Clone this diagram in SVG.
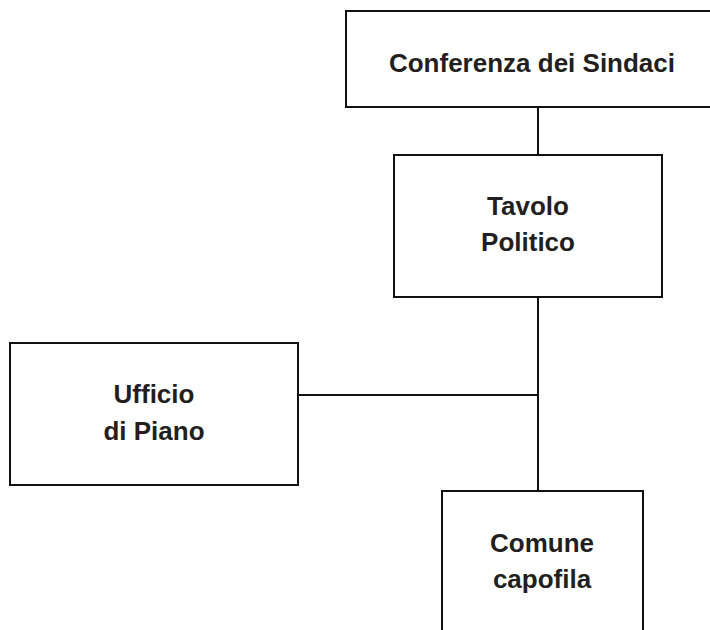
<svg xmlns="http://www.w3.org/2000/svg" width="710" height="630" viewBox="0 0 710 630">
<style>
.box{fill:#fff;stroke:#111;stroke-width:2}
.lbl{font-family:"Liberation Sans",Arial,sans-serif;font-weight:bold;font-size:26px;fill:#231f20;text-anchor:middle}
.conn{stroke:#111;stroke-width:2;fill:none}
</style>
<rect width="710" height="630" fill="#fff"/>
<g id="connectors">
<line class="conn" x1="538" y1="107" x2="538" y2="155"/>
<line class="conn" x1="538" y1="297" x2="538" y2="491"/>
<line class="conn" x1="298" y1="395" x2="538" y2="395"/>
</g>
<g id="conferenza">
<rect class="box" x="346" y="11" width="372" height="96"/>
<text class="lbl" x="532" y="72">Conferenza dei Sindaci</text>
</g>
<g id="tavolo">
<rect class="box" x="394" y="155" width="268" height="142"/>
<text class="lbl" x="528" y="215">Tavolo</text>
<text class="lbl" x="528" y="251">Politico</text>
</g>
<g id="ufficio">
<rect class="box" x="10" y="343" width="288" height="142"/>
<text class="lbl" x="154" y="403">Ufficio</text>
<text class="lbl" x="154" y="440">di Piano</text>
</g>
<g id="comune">
<rect class="box" x="442" y="491" width="201" height="150"/>
<text class="lbl" x="542" y="552">Comune</text>
<text class="lbl" x="542" y="588">capofila</text>
</g>
</svg>
